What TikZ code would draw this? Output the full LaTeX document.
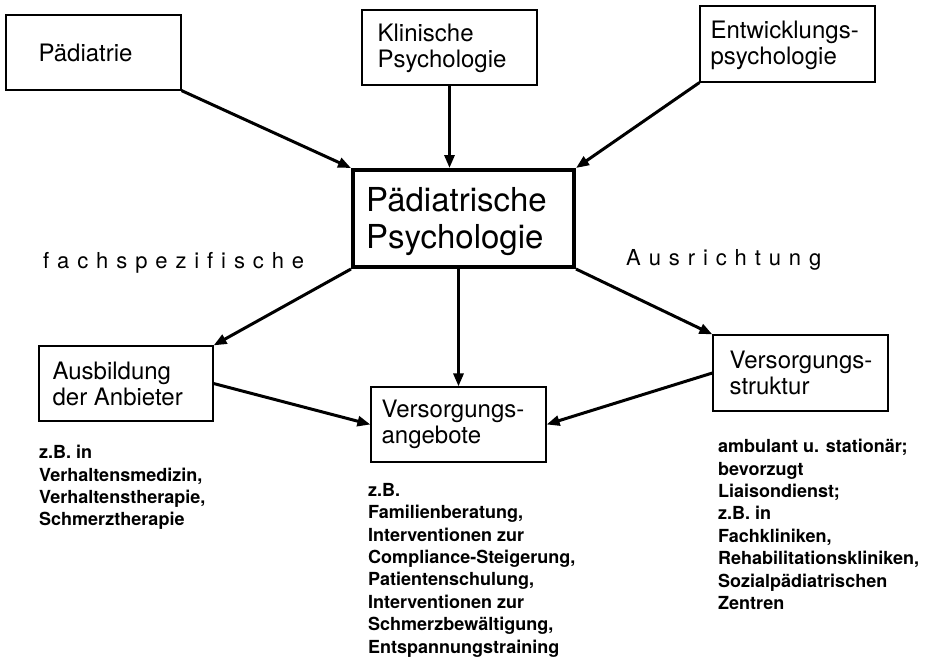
\documentclass[tikz,border=0pt]{standalone}
\usepackage{fontspec}
\setmainfont{TeX Gyre Heros}
\usetikzlibrary{arrows.meta,positioning}
\newcommand\lspc{\kern7.9pt\relax}
\begin{document}
\begin{tikzpicture}[x=1pt,y=-1pt,
  box/.style={draw,line width=1.2pt,rectangle,inner sep=0pt,minimum width=175pt,minimum height=75pt},
  mainbox/.style={draw,line width=4pt,rectangle,inner sep=0pt,minimum width=221pt,minimum height=97pt},
  boxtext/.style={anchor=west,inner sep=0pt,align=left,font=\fontsize{24}{26}\selectfont},
  maintext/.style={anchor=west,inner sep=0pt,align=left,font=\fontsize{33}{37}\selectfont},
  note/.style={anchor=north west,inner sep=0pt,align=left,
    font=\fontsize{18}{22.4}\selectfont\bfseries},
  spaced/.style={anchor=base west,inner sep=0pt,font=\fontsize{22}{26}\selectfont},
  arr/.style={line width=3pt,-{Triangle[length=13pt,width=10pt]}}
]
\useasboundingbox (0,0) rectangle (940,659);
% boxes
\node[box] (pad) at (93.5,52.5) {};
\node[box] (klin) at (449.5,47.5) {};
\node[box,minimum height=76pt] (entw) at (787.5,44) {};
\node[mainbox] (central) at (463.5,218.5) {};
\node[box,minimum width=174pt] (ausb) at (126,383.5) {};
\node[box] (vang) at (458.5,424.5) {};
\node[box,minimum height=76pt] (vstr) at (800.5,373) {};
% box texts
\node[boxtext] (padt) at ([xshift=33pt]pad.west) {Pädiatrie};
\node[boxtext] (klint) at ([xshift=16pt,yshift=-1pt]klin.west) {Klinische\\Psychologie};
\node[boxtext] (entwt) at ([xshift=11pt,yshift=-1pt]entw.west) {Entwicklungs-\\psychologie};
\node[maintext] (centralt) at ([xshift=15pt,yshift=-3pt]central.west) {Pädiatrische\\Psychologie};
\node[boxtext] (ausbt) at ([xshift=14pt]ausb.west) {Ausbildung\\der Anbieter};
\node[boxtext] (vangt) at ([xshift=11pt]vang.west) {Versorgungs-\\angebote};
\node[boxtext] (vstrt) at ([xshift=17pt]vstr.west) {Versorgungs-\\struktur};
% side labels
\node[spaced] (fach) at (43,268) {f\lspc a\lspc c\lspc h\lspc s\lspc p\lspc e\lspc z\lspc i\lspc f\lspc i\lspc s\lspc c\lspc h\lspc e};
\node[spaced] (ausr) at (626,265) {A\lspc u\lspc s\lspc r\lspc i\lspc c\lspc h\lspc t\lspc u\lspc n\lspc g};
% notes
\node[note] (n1) at (39,445) {z.B. in\\Verhaltensmedizin,\\Verhaltenstherapie,\\Schmerztherapie};
\node[note] (n2) at (368,483) {z.B.\\Familienberatung,\\Interventionen zur\\Compliance-Steigerung,\\Patientenschulung,\\Interventionen zur\\Schmerzbewältigung,\\Entspannungstraining};
\node[note] (n3) at (718,439) {ambulant u. stationär;\\bevorzugt\\Liaisondienst;\\z.B. in\\Fachkliniken,\\Rehabilitationskliniken,\\Sozialpädiatrischen\\Zentren};
% arrows
\draw[arr] (pad.south east) -- (central.north west);
\draw[arr] (klin.south) -- (klin.south |- central.north);
\draw[arr] (entw.south west) -- (central.north east);
\draw[arr] (central.south west) -- (ausb.north east);
\draw[arr] (vang.north |- central.south) -- (vang.north);
\draw[arr] (central.south east) -- (vstr.north west);
\draw[arr] (ausb.east) -- (vang.west);
\draw[arr] (vstr.west) -- (vang.east);
\end{tikzpicture}
\end{document}
